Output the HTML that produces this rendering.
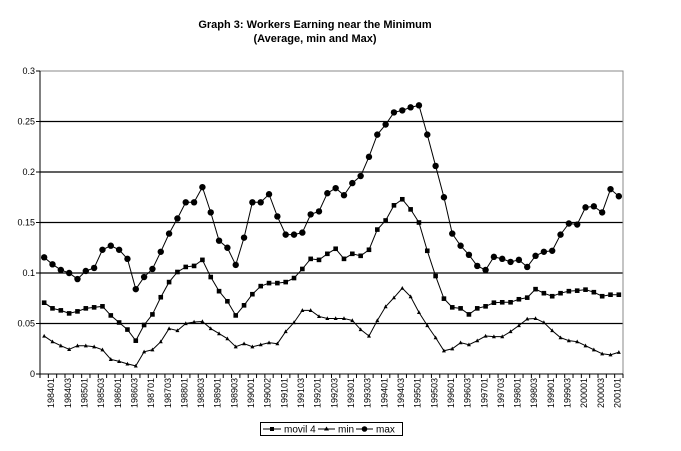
<!DOCTYPE html>
<html><head><meta charset="utf-8"><style>
html,body{margin:0;padding:0;background:#fff;}
svg{display:block;font-family:"Liberation Sans",Arial,sans-serif;}
</style></head><body>
<svg id="chart" width="681" height="451" xmlns="http://www.w3.org/2000/svg">
<text x="315" y="28" text-anchor="middle" font-size="11" font-weight="bold">Graph 3: Workers Earning near the Minimum</text>
<text x="315" y="42" text-anchor="middle" font-size="11" font-weight="bold">(Average, min and Max)</text>
<g id="grid"></g>
<g id="axes"></g>
<g id="series"></g>
<g id="legend">
<rect x="260.5" y="422.5" width="142" height="13" fill="#fff" stroke="#000"/>
<g>
<line x1="263" y1="429" x2="281" y2="429" stroke="#000"/><rect x="270" y="427" width="4" height="4"/>
<text x="284" y="432.5" font-size="10">movil 4</text></g>
<g>
<line x1="318" y1="429" x2="335" y2="429" stroke="#000"/><polygon points="326.5,426.5 329,430.5 324,430.5"/>
<text x="338" y="432.5" font-size="10">min</text></g>
<g>
<line x1="356" y1="429" x2="373" y2="429" stroke="#000"/><circle cx="364.5" cy="429" r="2.8"/>
<text x="376" y="432.5" font-size="10">max</text></g>
</g>
</svg>
<script>
const xLabels=["198401","198403","198501","198503","198601","198603","198701","198703","198801","198803","198901","198903","199001","199002","199101","199103","199201","199203","199301","199303","199401","199403","199501","199503","199601","199603","199701","199703","199801","199803","199901","199903","200001","200003","200101"];
const yTicks=[0,0.05,0.1,0.15,0.2,0.25,0.3];
const yTickLabels=["0","0.05","0.1","0.15","0.2","0.25","0.3"];
const movil4=[.0706,.065,.063,.060,.062,.065,.066,.067,.058,.051,.044,.033,.0485,.059,.076,.091,.101,.106,.107,.113,.096,.082,.072,.058,.068,.079,.087,.090,.090,.091,.095,.104,.114,.113,.119,.124,.114,.119,.117,.123,.143,.152,.167,.173,.163,.150,.122,.097,.0746,.066,.065,.059,.065,.067,.0706,.071,.071,.074,.0756,.084,.080,.077,.080,.082,.0825,.0835,.081,.077,.0785,.0785];
const minS=[.0376,.032,.028,.0244,.028,.028,.027,.024,.0145,.0125,.010,.008,.022,.024,.032,.045,.043,.050,.0515,.052,.045,.040,.035,.027,.030,.027,.029,.031,.030,.042,.051,.063,.063,.057,.055,.055,.055,.053,.044,.0376,.053,.0667,.0756,.085,.0766,.061,.048,.036,.023,.025,.031,.029,.033,.0376,.037,.037,.042,.048,.0545,.055,.051,.043,.036,.033,.032,.028,.024,.020,.019,.0215];
const maxS=[.1155,.1086,.103,.100,.094,.102,.105,.123,.127,.123,.114,.084,.096,.104,.121,.139,.154,.170,.170,.185,.160,.132,.125,.108,.135,.170,.170,.178,.156,.138,.138,.140,.158,.161,.179,.184,.177,.189,.196,.215,.237,.247,.259,.261,.264,.266,.237,.206,.175,.139,.127,.118,.107,.103,.116,.114,.111,.113,.106,.117,.121,.122,.138,.149,.148,.165,.166,.160,.183,.176];
const NS="http://www.w3.org/2000/svg";
const L=40,R=623,T=71,B=374,N=movil4.length;
const step=(R-L)/N;
const x=i=>L+step*(i+0.5);
const y=v=>B-(v/0.3)*(B-T);
function mk(tag,attrs,parent){const e=document.createElementNS(NS,tag);for(const k in attrs)e.setAttribute(k,attrs[k]);parent.appendChild(e);return e;}
const grid=document.getElementById('grid'),axes=document.getElementById('axes'),ser=document.getElementById('series');
yTicks.forEach((t,k)=>{
 if(t>0&&t<0.3){const g=mk('line',{x1:L,x2:R,y1:y(t),y2:y(t),stroke:'#000','stroke-width':1.2},grid);
 
 }
 const tk=mk('line',{x1:L-4,x2:L,y1:y(t),y2:y(t),stroke:'#000'},axes);
 
 
 const tx=mk('text',{x:L-5,y:y(t)+3,'text-anchor':'end','font-size':9},axes);tx.textContent=yTickLabels[k];
 
 
});
const fr=mk('polyline',{points:`${L},${T} ${R},${T} ${R},${B}`,fill:'none',stroke:'#888'},axes);


const ya=mk('line',{x1:L,x2:L,y1:T,y2:B,stroke:'#000'},axes);


const xa=mk('line',{x1:L,x2:R,y1:B,y2:B,stroke:'#000'},axes);


for(let i=0;i<=N;i++){const t=mk('line',{x1:L+step*i,x2:L+step*i,y1:B,y2:B+4,stroke:'#000'},axes);
 
 }
xLabels.forEach((lb,k)=>{const cx=x(k*2)+10;const t=mk('text',{x:0,y:0,transform:`translate(${cx},378) rotate(-90)`,'text-anchor':'end','font-size':9},axes);t.textContent=lb;
 
 });
function drawSeries(data,name,marker){
 const g=mk('g',{},ser);
 
 
 const l=mk('polyline',{points:data.map((v,i)=>x(i)+','+y(v)).join(' '),fill:'none',stroke:'#000','stroke-width':1},g);
 
 
 data.forEach((v,i)=>{let m;const px=x(i),py=y(v);
  if(marker==='sq')m=mk('rect',{x:px-2.3,y:py-2.3,width:4.6,height:4.6},g);
  else if(marker==='tri')m=mk('polygon',{points:`${px},${py-2.2} ${px+2},${py+1.6} ${px-2},${py+1.6}`},g);
  else m=mk('circle',{cx:px,cy:py,r:3.2},g);
  
  });
}
drawSeries(minS,'min','tri');
drawSeries(movil4,'movil4','sq');
drawSeries(maxS,'max','circ');
</script>
</body></html>
